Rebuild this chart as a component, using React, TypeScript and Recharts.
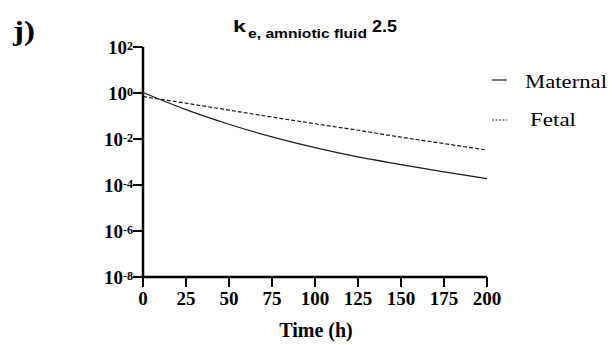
import { LineChart, Line, XAxis, YAxis } from "recharts";

// time points (h) and concentrations
const times = [0, 25, 50, 75, 100, 125, 150, 175, 200];
const maternal = [1.05, 0.19, 0.044, 0.0123, 0.0042, 0.00166, 0.00077, 0.00037, 0.00019];
const fetal = [0.7, 0.36, 0.18, 0.09, 0.046, 0.024, 0.012, 0.0063, 0.0033];

const xTicks = [0, 25, 50, 75, 100, 125, 150, 175, 200];
const yTicks = [1e-8, 1e-6, 1e-4, 1e-2, 1, 100];
const seriesNames = ["Maternal", "Fetal"];

const chartData = times.map((t, i) => ({
  time: t,
  Maternal: maternal[i],
  Fetal: fetal[i],
}));

const SERIF = "'Liberation Serif', 'Times New Roman', serif";
const SANS = "'Liberation Sans', Arial, sans-serif";
const INK = "#000";
const LINE = "#1c1c1c";

const YTick = (props: any) => {
  const { x, y, payload } = props;
  const exp = Math.round(Math.log10(payload.value));
  return (
    <text
      x={x}
      y={y + 7}
      textAnchor="end"
      fontFamily={SERIF}
      fontWeight="bold"
      fill={INK}
      fontSize={19}
    >
      <tspan>10</tspan>
      <tspan fontSize={12} dy={-4}>
        {exp}
      </tspan>
    </text>
  );
};

export default function App() {
  return (
    <div style={{ position: "absolute", left: 0, top: 0, width: 612, height: 345, background: "#fff" }}>
      <LineChart
        width={612}
        height={345}
        data={chartData}
        margin={{ top: 47, right: 125, left: 0, bottom: 0 }}
      >
        <XAxis
          dataKey="time"
          type="number"
          domain={[0, 200]}
          ticks={xTicks}
          height={68}
          stroke={INK}
          strokeWidth={2.5}
          tickSize={10}
          tickMargin={5}
          tickLine={{ strokeWidth: 2 }}
          tick={{ fill: INK, fontFamily: SERIF, fontWeight: "bold", fontSize: 19 }}
        />
        <YAxis
          type="number"
          scale="log"
          domain={[1e-8, 100]}
          ticks={yTicks}
          allowDataOverflow
          width={143}
          stroke={INK}
          strokeWidth={2.5}
          tickSize={10}
          tickMargin={0}
          tickLine={{ strokeWidth: 2 }}
          tick={<YTick />}
        />
        <Line
          type="monotone"
          dataKey="Maternal"
          stroke={LINE}
          strokeWidth={1.2}
          dot={false}
          isAnimationActive={false}
        />
        <Line
          type="monotone"
          dataKey="Fetal"
          stroke={LINE}
          strokeWidth={1.2}
          strokeDasharray="4 2"
          dot={false}
          isAnimationActive={false}
        />
      </LineChart>
      <svg
        width={612}
        height={345}
        style={{ position: "absolute", left: 0, top: 0, pointerEvents: "none" }}
      >
        <text x={13} y={40} fontFamily={SERIF} fontWeight="bold" fontSize={27} textLength={22} lengthAdjust="spacingAndGlyphs" fill={INK}>
          j)
        </text>
        <text x={233} y={32} fontFamily={SANS} fontWeight="bold" fontSize={17} textLength={13} lengthAdjust="spacingAndGlyphs" fill={INK}>
          k
        </text>
        <text x={248} y={38} fontFamily={SANS} fontWeight="bold" fontSize={13} textLength={119} lengthAdjust="spacingAndGlyphs" fill={INK}>
          e, amniotic fluid
        </text>
        <text x={372} y={32} fontFamily={SANS} fontWeight="bold" fontSize={16} textLength={25} lengthAdjust="spacingAndGlyphs" fill={INK}>
          2.5
        </text>
        <text x={316} y={337} textAnchor="middle" fontFamily={SERIF} fontWeight="bold" fontSize={20} fill={INK}>
          Time (h)
        </text>
        {/* legend */}
        <line x1={492} x2={507} y1={80} y2={80} stroke={LINE} strokeWidth={1.2} />
        <text x={525} y={88} fontFamily={SERIF} fontSize={18} textLength={82} lengthAdjust="spacingAndGlyphs" fill={INK}>
          {seriesNames[0]}
        </text>
        <line x1={492} x2={507} y1={120} y2={120} stroke={LINE} strokeWidth={1.2} strokeDasharray="2 1.5" />
        <text x={530} y={126} fontFamily={SERIF} fontSize={18} textLength={46} lengthAdjust="spacingAndGlyphs" fill={INK}>
          {seriesNames[1]}
        </text>
      </svg>
    </div>
  );
}
